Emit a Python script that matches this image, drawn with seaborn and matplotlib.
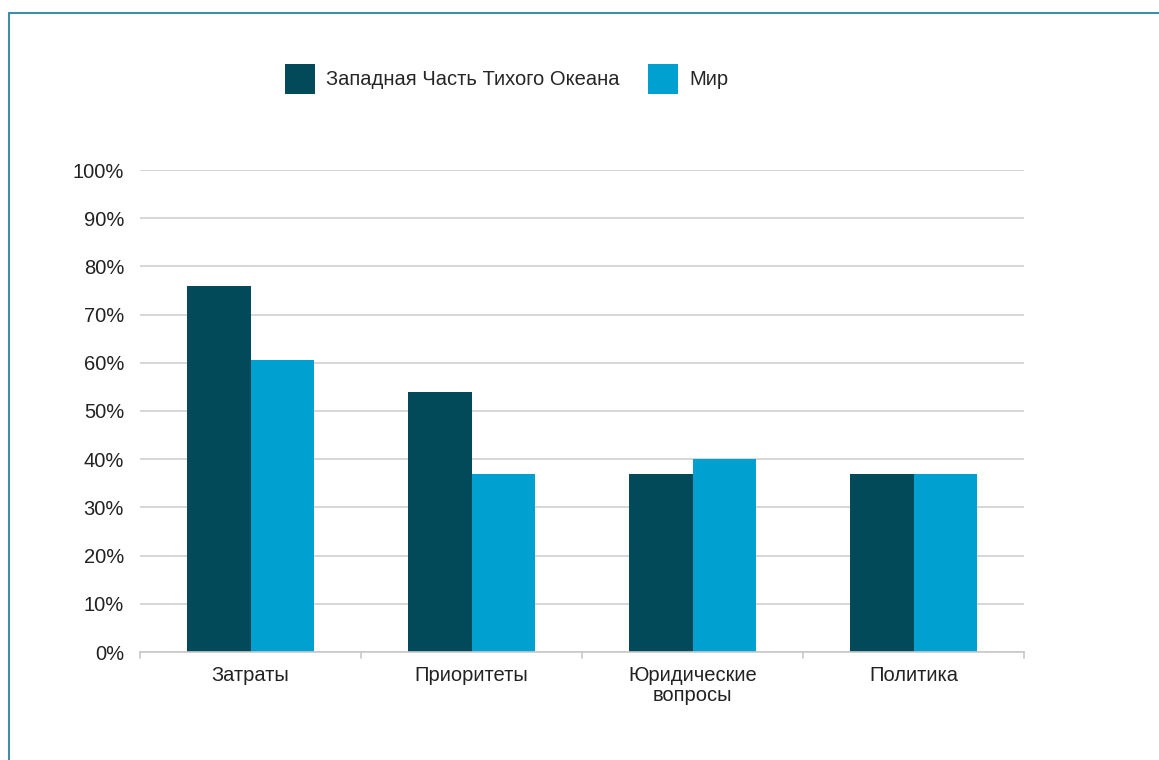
import pandas as pd
import matplotlib.pyplot as plt
import seaborn as sns
from matplotlib.patches import Patch
from matplotlib.lines import Line2D

# данные
categories = ['Затраты', 'Приоритеты', 'Юридические\nвопросы', 'Политика']
series_names = ['Западная Часть Тихого Океана', 'Мир']
wp_values = [76, 54, 37, 37]
world_values = [60.6, 37, 40, 37]
colors = ['#024a5a', '#00a1d1']

df = pd.DataFrame({
    'category': categories * 2,
    'series': [series_names[0]] * 4 + [series_names[1]] * 4,
    'value': wp_values + world_values,
})

sns.set_style('white')
plt.rcParams['font.family'] = ['Liberation Sans', 'DejaVu Sans']
FS = 14.5

fig = plt.figure(figsize=(11.59, 7.6), dpi=100)
ax = fig.add_axes([140/1159, 1 - 652/760, 884/1159, 482/760])

sns.barplot(data=df, x='category', y='value', hue='series', palette=colors,
            width=0.575, saturation=1, ax=ax, legend=False, linewidth=0)

ax.set_ylim(0, 100)
ax.set_xlim(-0.5, 3.5)
ax.set_yticks(range(0, 101, 10))
ax.set_yticklabels([f'{v}%' for v in range(0, 101, 10)], fontsize=FS, color='#222222')
ax.tick_params(axis='y', length=0, pad=11.5)
ax.tick_params(axis='x', length=0, labelsize=FS, labelcolor='#222222', pad=10)
for t in ax.get_xticklabels():
    t.set_linespacing(1.05)
ax.set_xlabel('')
ax.set_ylabel('')
ax.yaxis.grid(True, color='#d0d0d0', linewidth=1.2)
ax.set_axisbelow(True)
for s in ['top', 'right', 'left']:
    ax.spines[s].set_visible(False)
ax.spines['bottom'].set_color('#c8c8c8')
ax.spines['bottom'].set_linewidth(1.2)

# засечки между категориями
for xb in [-0.5, 0.5, 1.5, 2.5, 3.5]:
    ax.plot([xb, xb], [0, -1.3], color='#c8c8c8', lw=1.2, clip_on=False)

# легенда
handles = [Patch(facecolor=c, edgecolor='none') for c in colors]
fig.legend(handles, series_names, loc='center left', bbox_to_anchor=(285/1159, 1 - 79/760),
           ncol=2, frameon=False, fontsize=FS, handlelength=1.5, handleheight=1.9,
           handletextpad=0.55, columnspacing=1.4, borderaxespad=0, borderpad=0)

# рамка
fig.add_artist(Line2D([9/1159, 1], [1 - 13/760, 1 - 13/760], color='#3f8ea6', lw=1.5))
fig.add_artist(Line2D([9/1159, 9/1159], [0, 1 - 13/760], color='#3f8ea6', lw=1.5))

fig.savefig('out.png', dpi=100)
